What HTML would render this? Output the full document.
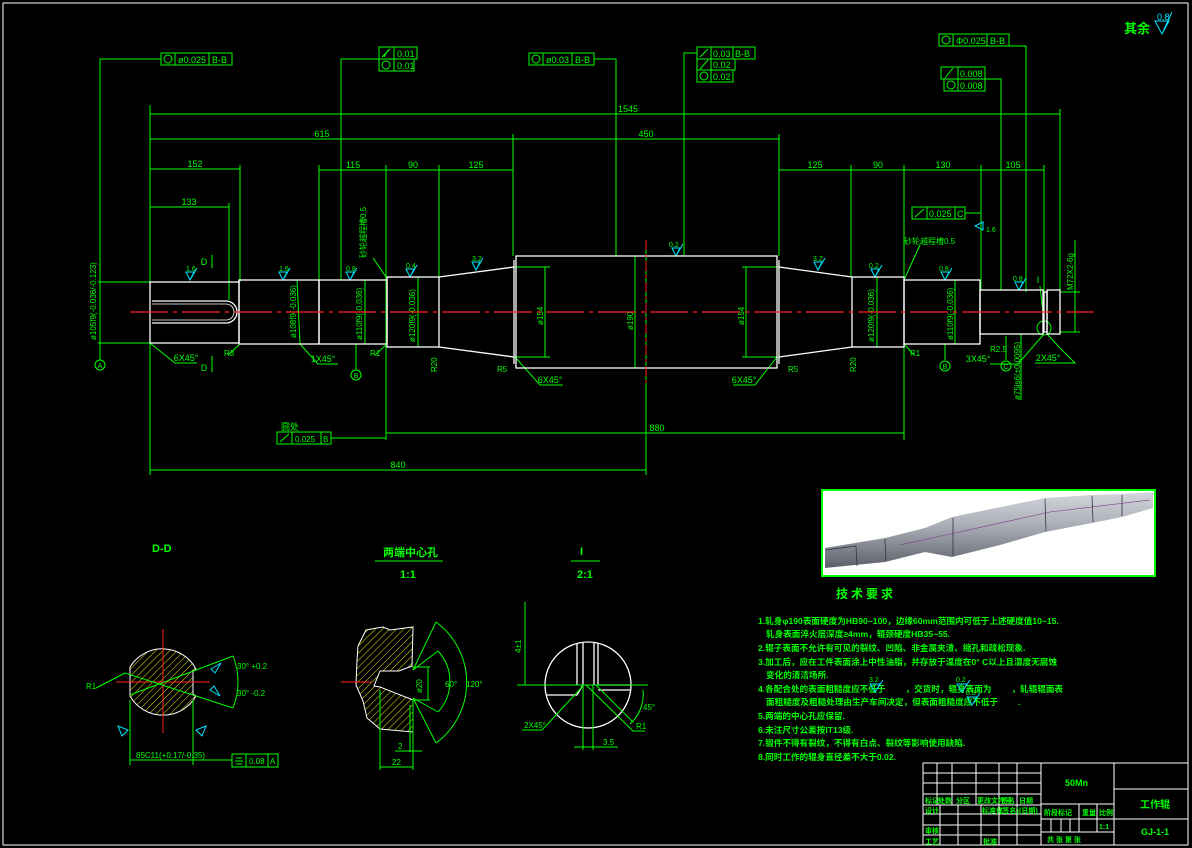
<!DOCTYPE html>
<html><head><meta charset="utf-8"><style>
html,body{margin:0;padding:0;background:#000;width:1192px;height:848px;overflow:hidden}
svg{display:block}
text{font-family:"Liberation Sans","Noto Sans CJK SC",sans-serif;fill:#00ff00}
.g{stroke:#00ff00;fill:none;stroke-width:1}
.w{stroke:#fff;fill:none;stroke-width:1.3}
.c{stroke:#00e5ff;fill:none;stroke-width:1}
.ct{fill:#00e5ff}
</style></head><body>
<svg width="1192" height="848" viewBox="0 0 1192 848" xmlns="http://www.w3.org/2000/svg">
<defs>
<pattern id="h" width="5" height="5" patternUnits="userSpaceOnUse" patternTransform="rotate(45)">
<line x1="0" y1="0" x2="0" y2="5" stroke="#e8e800" stroke-width="1"/></pattern>
</defs>
<rect x="3" y="3" width="1185" height="842" fill="none" stroke="#fff" stroke-width="1"/>

<text x="1124" y="33" font-size="13" font-weight="bold">其余</text>
<path class="c" d="M1155,21 L1162,34 L1169,21 Z M1162,34 L1172,12"/>
<text x="1157" y="20" font-size="9" class="ct">0.8</text>

<g class="g">
<rect x="161" y="53" width="71" height="12"/><line x1="175" y1="53" x2="175" y2="65"/><line x1="209" y1="53" x2="209" y2="65"/>
<circle cx="168" cy="59" r="4"/><polyline points="161,59 100,59 100,345"/>
<rect x="379" y="47" width="38" height="12"/><rect x="379" y="59" width="35" height="12"/><line x1="394" y1="47" x2="394" y2="71"/>
<circle cx="386" cy="65" r="4"/><path d="M382,57 L390,49 M384,57 l4,-7"/>
<polyline points="379,59 341,59 341,280"/>
<rect x="529" y="53" width="65" height="12"/><line x1="543" y1="53" x2="543" y2="65"/><line x1="572" y1="53" x2="572" y2="65"/>
<circle cx="536" cy="59" r="4"/><polyline points="594,59 616,59 616,256"/>
<rect x="697" y="47" width="58" height="12"/><rect x="697" y="59" width="38" height="11"/><rect x="697" y="70" width="36" height="12"/>
<line x1="711" y1="47" x2="711" y2="82"/><line x1="733" y1="47" x2="733" y2="59"/>
<circle cx="704" cy="76" r="4"/><path d="M700,57 L708,49 M700,69 l8,-9"/>
<polyline points="697,53 684,53 684,256"/>
<rect x="939" y="34" width="70" height="12"/><line x1="953" y1="34" x2="953" y2="46"/><line x1="987" y1="34" x2="987" y2="46"/>
<circle cx="946" cy="40" r="4"/><polyline points="1009,46 1026,46 1026,292"/>
<rect x="941" y="67" width="44" height="12"/><rect x="944" y="79" width="41" height="12"/><line x1="958" y1="67" x2="958" y2="91"/>
<circle cx="951" cy="85" r="4"/><path d="M945,78 l8,-10"/>
<polyline points="985,79 1001,79 1001,290"/>
<rect x="912" y="207" width="53" height="12"/><line x1="927" y1="207" x2="927" y2="219"/><line x1="955" y1="207" x2="955" y2="219"/>
<path d="M915,217 l9,-8"/><line x1="965" y1="213" x2="981" y2="213"/>
</g>
<g font-size="9">
<text x="178" y="63">ø0.025</text><text x="212" y="63">B-B</text>
<text x="397" y="57">0.01</text><text x="397" y="69">0.01</text>
<text x="546" y="63">ø0.03</text><text x="575" y="63">B-B</text>
<text x="713" y="57">0.03</text><text x="735" y="57">B-B</text><text x="713" y="68">0.02</text><text x="713" y="80">0.02</text>
<text x="956" y="44">Φ0.025</text><text x="990" y="44">B-B</text>
<text x="960" y="77">0.008</text><text x="960" y="89">0.008</text>
<text x="929" y="217">0.025</text><text x="957" y="217">C</text>
</g>

<g class="g">
<line x1="150" y1="114" x2="1060" y2="114"/>
<line x1="150" y1="139" x2="779" y2="139"/>
<line x1="150" y1="169" x2="240" y2="169"/>
<line x1="150" y1="207" x2="229" y2="207"/>
<line x1="319" y1="170" x2="513" y2="170"/>
<line x1="779" y1="170" x2="1044" y2="170"/>
<line x1="150" y1="105" x2="150" y2="345"/>
<line x1="240" y1="165" x2="240" y2="282"/>
<line x1="229" y1="203" x2="229" y2="300"/>
<line x1="319" y1="165" x2="319" y2="280"/>
<line x1="386" y1="165" x2="386" y2="440"/>
<line x1="439" y1="165" x2="439" y2="277"/>
<line x1="513" y1="134" x2="513" y2="256"/>
<line x1="779" y1="134" x2="779" y2="256"/>
<line x1="851" y1="165" x2="851" y2="277"/>
<line x1="904" y1="165" x2="904" y2="440"/>
<line x1="981" y1="165" x2="981" y2="290"/>
<line x1="1044" y1="165" x2="1044" y2="292"/>
<line x1="1060" y1="109" x2="1060" y2="330"/>
<line x1="646" y1="240" x2="646" y2="475"/>
<line x1="386" y1="433" x2="904" y2="433"/>
<line x1="150" y1="470" x2="646" y2="470"/>
<line x1="150" y1="345" x2="150" y2="475"/>
<line x1="513" y1="267" x2="550" y2="267"/><line x1="513" y1="357" x2="550" y2="357"/><line x1="545" y1="267" x2="545" y2="357"/>
<line x1="742" y1="267" x2="779" y2="267"/><line x1="742" y1="357" x2="779" y2="357"/><line x1="746" y1="267" x2="746" y2="357"/>
<line x1="635" y1="256" x2="635" y2="368"/>
<line x1="98" y1="282" x2="152" y2="282"/><line x1="98" y1="343" x2="152" y2="343"/>
<line x1="297" y1="280" x2="300" y2="344"/>
<line x1="365" y1="280" x2="365" y2="344"/>
<line x1="418" y1="277" x2="418" y2="347"/>
<line x1="877" y1="277" x2="877" y2="347"/>
<line x1="955" y1="280" x2="955" y2="344"/>
<line x1="1060" y1="292" x2="1080" y2="292"/><line x1="1060" y1="332" x2="1080" y2="332"/><line x1="1075" y1="240" x2="1075" y2="332"/>
<line x1="1021" y1="334" x2="1021" y2="400"/>
<polyline points="150,343 175,363 197,363"/>
<polyline points="300,344 318,364 338,364"/>
<polyline points="515,357 540,385 563,385"/>
<polyline points="777,357 755,385 733,385"/>
<polyline points="1044,334 1018,364 990,364"/>
<polyline points="1047,334 1060,348 1075,363 1035,363"/>
<line x1="240" y1="344" x2="228" y2="355"/>
<line x1="387" y1="344" x2="375" y2="355"/>
<line x1="904" y1="344" x2="914" y2="355"/>
<line x1="373" y1="258" x2="386" y2="277"/>
<line x1="920" y1="245" x2="904" y2="280"/>
<line x1="100" y1="345" x2="100" y2="360"/><circle cx="100" cy="365" r="5"/>
<line x1="356" y1="344" x2="356" y2="370"/><circle cx="356" cy="375" r="5"/>
<line x1="945" y1="344" x2="945" y2="360"/><circle cx="945" cy="366" r="5"/>
<line x1="1006" y1="336" x2="1006" y2="360"/><circle cx="1006" cy="366" r="5"/>
<circle cx="1044" cy="328" r="7"/><line x1="1040" y1="286" x2="1044" y2="322"/>
<line x1="212" y1="255" x2="212" y2="268"/><line x1="212" y1="356" x2="212" y2="372"/>
<rect x="277" y="432" width="54" height="12"/><line x1="292" y1="432" x2="292" y2="444"/><line x1="321" y1="432" x2="321" y2="444"/>
<line x1="331" y1="438" x2="386" y2="438"/><path d="M280,442 l9,-8"/>
</g>
<g font-size="9" text-anchor="middle">
<text x="628" y="112">1545</text><text x="322" y="137">615</text><text x="646" y="137">450</text>
<text x="195" y="167">152</text><text x="189" y="205">133</text>
<text x="353" y="168">115</text><text x="413" y="168">90</text><text x="476" y="168">125</text>
<text x="815" y="168">125</text><text x="878" y="168">90</text><text x="943" y="168">130</text><text x="1013" y="168">105</text>
<text x="657" y="431">880</text><text x="398" y="468">840</text>
<text x="186" y="361">6X45°</text><text x="323" y="362">1X45°</text><text x="550" y="383">6X45°</text><text x="744" y="383">6X45°</text>
<text x="978" y="362">3X45°</text><text x="1048" y="361">2X45°</text>
<text x="290" y="430">圆处</text>
<text x="204" y="265">D</text><text x="204" y="371">D</text><text x="1038" y="283">I</text>
<text x="100" y="368" font-size="7">A</text><text x="356" y="378" font-size="7">B</text><text x="945" y="369" font-size="7">B</text><text x="1006" y="369" font-size="7">C</text>
</g>
<g font-size="8" fill="#00ff00">
<text x="295" y="442">0.025</text><text x="323" y="442">B</text>
<text transform="translate(96,340) rotate(-90)">ø105f9(-0.036/-0.123)</text>
<text transform="translate(296,338) rotate(-90)">ø108f9(-0.036)</text>
<text transform="translate(362,340) rotate(-90)">ø110f9(-0.036)</text>
<text transform="translate(415,342) rotate(-90)">ø120f9(-0.036)</text>
<text transform="translate(543,325) rotate(-90)">ø154</text>
<text transform="translate(633,330) rotate(-90)">ø190</text>
<text transform="translate(744,325) rotate(-90)">ø154</text>
<text transform="translate(874,342) rotate(-90)">ø120f9(-0.036)</text>
<text transform="translate(953,340) rotate(-90)">ø110f9(-0.036)</text>
<text transform="translate(1073,290) rotate(-90)">M72X2-6g</text>
<text transform="translate(1020,400) rotate(-90)">ø75js6(±0.0095)</text>
<text transform="translate(366,258) rotate(-90)">砂轮越程槽0.5</text>
<text x="904" y="244">砂轮越程槽0.5</text>
<text transform="translate(437,372) rotate(-90)">R20</text>
<text transform="translate(856,372) rotate(-90)">R20</text>
<text x="224" y="356">R3</text><text x="370" y="356">R1</text><text x="910" y="356">R1</text>
<text x="497" y="372">R5</text><text x="788" y="372">R5</text><text x="990" y="352">R2.5</text>
</g>
<g class="c">
<path d="M186,272 l4,8 l4,-8 Z M190,280 l7,-12"/><path d="M279,272 l4,8 l4,-8 Z M283,280 l7,-12"/>
<path d="M346,272 l4,8 l4,-8 Z M350,280 l7,-12"/><path d="M406,269 l4,8 l4,-8 Z M410,277 l7,-12"/>
<path d="M472,262 l4,8 l4,-8 Z M476,270 l7,-12"/><path d="M672,248 l4,8 l4,-8 Z M676,256 l7,-12"/>
<path d="M814,262 l4,8 l4,-8 Z M818,270 l7,-12"/><path d="M871,269 l4,8 l4,-8 Z M875,277 l7,-12"/>
<path d="M941,272 l4,8 l4,-8 Z M945,280 l7,-12"/><path d="M1015,282 l4,8 l4,-8 Z M1019,290 l7,-12"/>
<path d="M983,222 l-8,4 l8,4 Z"/>
</g>
<g font-size="7" class="ct">
<text x="186" y="271">1.6</text><text x="279" y="271">1.6</text><text x="346" y="271">0.8</text><text x="406" y="268">0.4</text>
<text x="472" y="261">3.2</text><text x="669" y="247">0.2</text><text x="813" y="261">3.2</text><text x="869" y="268">0.2</text>
<text x="939" y="271">0.8</text><text x="1013" y="281">0.8</text><text x="986" y="232">1.6</text>
</g>

<g class="w">
<rect x="150" y="282" width="89" height="61"/>
<rect x="239" y="280" width="80" height="64"/>
<rect x="319" y="280" width="68" height="64"/>
<rect x="387" y="277" width="52" height="70"/>
<path d="M439,277 L514,267 M439,347 L514,357"/>
<rect x="516" y="256" width="261" height="112"/>
<line x1="514" y1="260" x2="514" y2="364"/><line x1="779" y1="260" x2="779" y2="364"/>
<path d="M779,267 L852,277 M779,357 L852,347"/>
<rect x="852" y="277" width="52" height="70"/>
<rect x="904" y="280" width="76" height="64"/>
<rect x="980" y="290" width="63" height="44"/>
<rect x="1044" y="292" width="3" height="40"/>
<rect x="1047" y="290" width="13" height="44"/>
<path d="M152,301 L226,301 A11,11 0 0 1 226,323 L152,323"/>
<path d="M152,304 L226,304 A8,8 0 0 1 226,320 L152,320" stroke-width="0.8"/>
</g>
<line x1="130" y1="312" x2="1094" y2="312" stroke="#ff2020" stroke-width="1.2" stroke-dasharray="38 5 4 5"/>
<line x1="646" y1="240" x2="646" y2="385" stroke="#ff2020" stroke-width="1" stroke-dasharray="10 4 3 4"/>

<rect x="822" y="490" width="333" height="86" fill="#fff" stroke="#00ff00" stroke-width="2"/>
<defs><linearGradient id="sg" x1="0" y1="0" x2="0" y2="1"><stop offset="0" stop-color="#d4d7dc"/><stop offset="0.45" stop-color="#a9adb5"/><stop offset="1" stop-color="#5c6068"/></linearGradient></defs>
<path d="M825,548 L885,538 L925,528 L952,517 L1045,498 L1092,495 L1122,494 L1153,492 L1153,508 L1122,517 L1092,523 L1045,532 L1000,545 L952,557 L925,552 L885,562 L825,568 Z" fill="url(#sg)"/>
<path d="M826,550 L856,546 L857,566 M885,539 L886,561 M953,518 L953,556 M1045,499 L1046,531 M1092,496 L1093,522 M1122,495 L1122,516" stroke="#334" fill="none" stroke-width="0.8"/>
<path d="M900,545 L1050,512 L1150,500" stroke="#7a3a8a" fill="none" stroke-width="0.6"/>

<text x="152" y="552" font-size="11" font-weight="bold">D-D</text>
<path d="M130,667 A38,38 0 0 1 196,669 L193,671 L193,694 L196,696 A38,38 0 0 1 130,696 L130,694 L130,671 Z" fill="url(#h)" stroke="#fff" stroke-width="1"/>
<g stroke="#ff2020"><line x1="163" y1="629" x2="163" y2="733"/><line x1="116" y1="682" x2="210" y2="682"/></g>
<g class="g">
<line x1="96" y1="688" x2="125" y2="673"/><line x1="125" y1="673" x2="233" y2="708"/><line x1="130" y1="695" x2="233" y2="656"/>
<path d="M233,656 A70,70 0 0 1 233,708"/>
<line x1="130" y1="700" x2="130" y2="765"/><line x1="193" y1="700" x2="193" y2="765"/>
<line x1="130" y1="760" x2="232" y2="760"/>
<rect x="232" y="754" width="46" height="13"/><line x1="246" y1="754" x2="246" y2="767"/><line x1="268" y1="754" x2="268" y2="767"/>
<path d="M236,758 h6 M235,761 h8 M236,764 h6"/>
</g>
<g class="c"><path d="M211,669 l10,-6 l-6,10 Z M210,690 l10,6 l-6,-10 Z M128,730 l-10,-4 l4,10 Z M196,730 l10,-4 l-4,10 Z"/></g>
<g font-size="8">
<text x="86" y="689">R1</text><text x="237" y="669">30° +0.2</text><text x="237" y="696">30° -0.2</text>
<text x="136" y="758">85C11(+0.17/-0.35)</text><text x="249" y="764">0.08</text><text x="270" y="764">A</text>
</g>

<text x="383" y="556" font-size="11" font-weight="bold">两端中心孔</text>
<line x1="375" y1="561" x2="443" y2="561" class="g"/>
<text x="400" y="578" font-size="11" font-weight="bold">1:1</text>
<path d="M366,630 L383,627 L390,630 L413,627 L412,666 L399,671 L380,671 L374,686 L380,687 L413,700 L413,732 L380,729 L367,718 L363,701 L356,685 L357,660 L358,646 Z" fill="url(#h)" stroke="#fff" stroke-width="1"/>
<line x1="341" y1="682" x2="372" y2="682" stroke="#ff2020"/>
<g class="g">
<line x1="413" y1="670" x2="436" y2="622"/><line x1="413" y1="698" x2="436" y2="743"/>
<line x1="413" y1="670" x2="438" y2="651"/><line x1="413" y1="698" x2="438" y2="712"/>
<path d="M436,622 A75,75 0 0 1 436,743"/><path d="M438,651 A45,45 0 0 1 438,712"/>
<line x1="412" y1="667" x2="430" y2="667"/><line x1="412" y1="700" x2="430" y2="700"/><line x1="428" y1="667" x2="428" y2="700"/>
<line x1="380" y1="690" x2="380" y2="770"/><line x1="413" y1="700" x2="413" y2="770"/><line x1="410" y1="705" x2="410" y2="752"/>
<line x1="380" y1="767" x2="413" y2="767"/><line x1="395" y1="751" x2="422" y2="751"/>
</g>
<g font-size="8"><text x="415" y="690" transform="rotate(-90 420 688)">ø20</text><text x="445" y="687">60°</text><text x="466" y="687">120°</text>
<text x="392" y="765">22</text><text x="398" y="749">2</text></g>

<text x="580" y="555" font-size="11" font-weight="bold">I</text>
<line x1="571" y1="561" x2="600" y2="561" class="g"/>
<text x="577" y="578" font-size="11" font-weight="bold">2:1</text>
<circle cx="588" cy="685" r="43" class="w" stroke-width="1"/>
<g class="w" stroke-width="1"><path d="M577,643 V685 M583,643 V685 M594,643 V685 M598,643 V685 M546,695 H577 L583,685 M598,685 H631 M598,690 H631"/></g>
<g class="g">
<line x1="525" y1="602" x2="525" y2="685"/><line x1="517" y1="685" x2="648" y2="685"/>
<line x1="583" y1="685" x2="583" y2="750"/><line x1="593" y1="685" x2="593" y2="750"/>
<line x1="574" y1="747" x2="618" y2="747"/>
<polyline points="583,686 542,730 522,730"/><polyline points="586,685 633,731 645,731"/><line x1="596" y1="685" x2="633" y2="722"/>
<path d="M643,690 A40,40 0 0 1 630,724"/>
</g>
<g font-size="8"><text x="514" y="650" transform="rotate(-90 519 648)">4±1</text><text x="524" y="728">2X45°</text>
<text x="636" y="729">R1</text><text x="643" y="710">45°</text><text x="603" y="745">3.5</text></g>

<text x="836" y="598" font-size="12" font-weight="bold" letter-spacing="3">技术要求</text>
<g font-size="8.6" font-weight="bold">
<text x="758" y="624">1.轧身φ190表面硬度为HB90~100，边缘60mm范围内可低于上述硬度值10~15.</text>
<text x="766" y="637">轧身表面淬火层深度≥4mm，辊颈硬度HB35~55.</text>
<text x="758" y="651">2.辊子表面不允许有可见的裂纹、凹陷、非金属夹渣、缩孔和疏松现象.</text>
<text x="758" y="665">3.加工后，应在工件表面涂上中性油脂，并存放于温度在0° C以上且湿度无腐蚀</text>
<text x="766" y="678">变化的清洁场所.</text>
<text x="758" y="692">4.各配合处的表面粗糙度应不低于<tspan dx="20">，交货时，辊身表面为</tspan><tspan dx="20">，轧辊辊面表</tspan></text>
<text x="766" y="705">面粗糙度及粗糙处理由生产车间决定，但表面粗糙度应不低于<tspan dx="20">.</tspan></text>
<text x="758" y="719">5.两端的中心孔应保留.</text>
<text x="758" y="733">6.未注尺寸公差按IT13级.</text>
<text x="758" y="746">7.锻件不得有裂纹，不得有白点、裂纹等影响使用缺陷.</text>
<text x="758" y="760">8.同时工作的辊身直径差不大于0.02.</text>
</g>
<g class="c"><path d="M870,684 l5,8 l5,-8 Z M875,692 l8,-12 M957,684 l5,8 l5,-8 Z M962,692 l8,-12 M967,697 l5,8 l5,-8 Z M972,705 l8,-12"/></g>
<g font-size="7" class="ct"><text x="869" y="682">3.2</text><text x="956" y="682">0.2</text><text x="966" y="695">0.8</text></g>

<g stroke="#fff" fill="none" stroke-width="1">
<rect x="923" y="763" width="265" height="82"/>
<line x1="1041" y1="763" x2="1041" y2="845"/><line x1="1114" y1="763" x2="1114" y2="845"/>
<line x1="1114" y1="789" x2="1188" y2="789"/><line x1="1114" y1="819" x2="1188" y2="819"/>
<line x1="923" y1="773" x2="1041" y2="773"/><line x1="923" y1="783" x2="1041" y2="783"/><line x1="923" y1="794" x2="1041" y2="794"/>
<line x1="923" y1="805" x2="1041" y2="805"/><line x1="923" y1="814" x2="1041" y2="814"/><line x1="923" y1="825" x2="1041" y2="825"/><line x1="923" y1="835" x2="1041" y2="835"/>
<line x1="937" y1="763" x2="937" y2="805"/><line x1="952" y1="763" x2="952" y2="805"/><line x1="976" y1="763" x2="976" y2="805"/>
<line x1="999" y1="763" x2="999" y2="845"/><line x1="1017" y1="763" x2="1017" y2="845"/>
<line x1="940" y1="805" x2="940" y2="845"/><line x1="958" y1="805" x2="958" y2="845"/><line x1="981" y1="805" x2="981" y2="845"/>
<line x1="1041" y1="804" x2="1114" y2="804"/><line x1="1041" y1="819" x2="1114" y2="819"/><line x1="1041" y1="832" x2="1114" y2="832"/>
<line x1="1079" y1="804" x2="1079" y2="832"/><line x1="1097" y1="804" x2="1097" y2="832"/>
<line x1="1051" y1="819" x2="1051" y2="832"/><line x1="1061" y1="819" x2="1061" y2="832"/><line x1="1070" y1="819" x2="1070" y2="832"/>
</g>
<g font-size="7" font-weight="bold">
<text x="1065" y="786" font-size="9">50Mn</text>
<text x="1140" y="808" font-size="10">工作辊</text><text x="1141" y="835" font-size="9">GJ-1-1</text>
<text x="925" y="803">标记</text><text x="938" y="803">处数</text><text x="956" y="803">分区</text><text x="977" y="803">更改文件号</text><text x="1001" y="803">签名</text><text x="1019" y="803">日期</text>
<text x="925" y="813">设计</text><text x="982" y="813">标准化</text><text x="1000" y="813">(签名)</text><text x="1019" y="813">(日期)</text>
<text x="925" y="833">审核</text><text x="925" y="844">工艺</text><text x="983" y="844">批准</text>
<text x="1044" y="815">阶段标记</text><text x="1082" y="815">重量</text><text x="1099" y="815">比例</text><text x="1099" y="829">1:1</text>
<text x="1047" y="842">共 张  第 张</text>
</g>
</svg>
</body></html>
